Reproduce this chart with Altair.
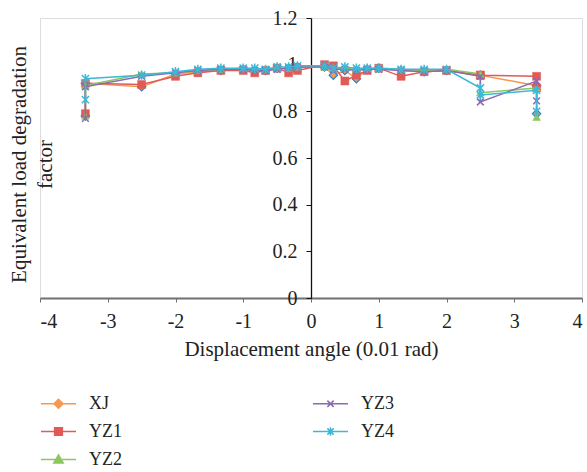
import altair as alt
import pandas as pd

# ---- data ----
series = ["XJ", "YZ1", "YZ2", "YZ3", "YZ4"]
x_vals = [-3.33, -3.33, -2.5, -2, -1.67, -1.33, -1, -0.83, -0.67, -0.5, -0.33, -0.2,
          0.2, 0.33, 0.5, 0.67, 0.83, 1, 1.33, 1.67, 2, 2.5, 2.5, 3.33, 3.33]
xj  = [0.78, 0.92, 0.905, 0.96, 0.97, 0.975, 0.98, 0.975, 0.975, 0.985, 0.985, 0.99,
       0.99, 0.955, 0.975, 0.94, 0.98, 0.985, 0.975, 0.97, 0.975, 0.955, 0.955, 0.91, 0.79]
yz1 = [0.79, 0.92, 0.915, 0.95, 0.965, 0.975, 0.975, 0.965, 0.975, 0.985, 0.965, 0.975,
       1.0, 0.995, 0.93, 0.955, 0.975, 0.985, 0.95, 0.97, 0.975, 0.955, 0.955, 0.95, 0.90]
yz2 = [0.78, 0.91, 0.96, 0.965, 0.975, 0.98, 0.985, 0.98, 0.98, 0.985, 0.985, 0.99,
       0.99, 0.985, 0.985, 0.98, 0.985, 0.985, 0.98, 0.975, 0.98, 0.96, 0.88, 0.90, 0.775]
yz3 = [0.77, 0.905, 0.95, 0.965, 0.975, 0.98, 0.98, 0.975, 0.975, 0.98, 0.985, 0.99,
       0.99, 0.98, 0.98, 0.975, 0.98, 0.98, 0.975, 0.97, 0.975, 0.95, 0.84, 0.93, 0.845]
yz4 = [0.85, 0.94, 0.955, 0.97, 0.98, 0.985, 0.985, 0.985, 0.98, 0.99, 0.99, 0.995,
       0.995, 0.985, 0.99, 0.985, 0.985, 0.985, 0.98, 0.98, 0.98, 0.90, 0.87, 0.89, 0.80]
values = [xj, yz1, yz2, yz3, yz4]

x_ticks = [-4, -3, -2, -1, 0, 1, 2, 3, 4]
y_ticks = [0, 0.2, 0.4, 0.6, 0.8, 1.0, 1.2]

# ---- styles ----
line_colors = ["#f29a55", "#e05a56", "#8cc660", "#8a6bb3", "#3db8d6"]
W, H = 542, 280
FONT = "Liberation Serif, DejaVu Serif, serif"

rows = []
for s, vals in zip(series, values):
    for i, (xv, yv) in enumerate(zip(x_vals, vals)):
        rows.append({"series": s, "x": xv, "y": yv, "order": i})
df = pd.DataFrame(rows)

X = alt.X("x:Q", scale=alt.Scale(domain=[-4, 4], nice=False, zero=False),
          axis=alt.Axis(values=x_ticks, labelExpr="'' + datum.value", grid=False,
                        domainColor="#707070", domainWidth=2, tickColor="#707070",
                        tickSize=4, labelPadding=9, labelFont=FONT, labelFontSize=20,
                        labelColor="#222", title="Displacement angle (0.01 rad)",
                        titleFont=FONT, titleFontSize=21, titleFontWeight="normal",
                        titleColor="#222", titlePadding=7))
Y = alt.Y("y:Q", scale=alt.Scale(domain=[0, 1.2], nice=False),
          axis=alt.Axis(orient="left", offset=-W / 2, values=y_ticks,
                        labelExpr="'' + datum.value", grid=False,
                        domainColor="#111", domainWidth=1.3, tickColor="#111",
                        tickSize=5, labelPadding=9, labelFont=FONT, labelFontSize=20,
                        labelColor="#222",
                        title=["Equivalent load degradation", "factor"],
                        titleFont=FONT, titleFontSize=21, titleFontWeight="normal",
                        titleColor="#222", titleAngle=-90, titleAlign="center",
                        titleBaseline="alphabetic", titleX=-W / 2 - 15,
                        titleY=146, titleLineHeight=26))

point_styles = [
    dict(shape="diamond", filled=True, fill="#f29a55", stroke="#2f7fc0", strokeWidth=1.2, size=70),
    dict(shape="square", filled=True, fill="#e05a56", stroke="#e05a56", strokeWidth=0.5, size=64),
    dict(shape="triangle-up", filled=True, fill="#8cc660", stroke="#8cc660", strokeWidth=0.5, size=60),
    dict(shape="M-1,-1L1,1M-1,1L1,-1", filled=False, stroke="#8a6bb3", strokeWidth=1.5, size=45),
    dict(shape="M-1,-1L1,1M-1,1L1,-1M0,-1.3L0,1.3", filled=False, stroke="#3db8d6", strokeWidth=1.5, size=52),
]

layers = []
for s, c, ps in zip(series, line_colors, point_styles):
    d = df[df["series"] == s]
    base = alt.Chart(d)
    layers.append(base.mark_line(color=c, strokeWidth=1.5).encode(x=X, y=Y, order="order:Q"))
    layers.append(base.mark_point(opacity=1, **ps).encode(x=X, y=Y))

# legend layer (points sit outside the domain and are clipped)
legend_order = ["XJ", "YZ1", "YZ2", "YZ3", "YZ4"]
leg_colors = {"XJ": "#f29a55", "YZ1": "#e05a56", "YZ2": "#8cc660", "YZ3": "#8a6bb3", "YZ4": "#3db8d6"}
leg_paths = {
    "XJ": "M-1,0L1,0M0,-0.26L0.26,0L0,0.26L-0.26,0Z",
    "YZ1": "M-1,0L1,0M-0.22,-0.22L0.22,-0.22L0.22,0.22L-0.22,0.22Z",
    "YZ2": "M-1,0L1,0M0,-0.26L0.27,0.2L-0.27,0.2Z",
    "YZ3": "M-1,0L1,0M-0.18,-0.18L0.18,0.18M-0.18,0.18L0.18,-0.18",
    "YZ4": "M-1,0L1,0M-0.18,-0.18L0.18,0.18M-0.18,0.18L0.18,-0.18M0,-0.24L0,0.24",
}
leg_df = pd.DataFrame({"series": series, "x": [99] * 5, "y": [0.5] * 5})
leg = alt.Legend(orient="none", legendX=0, legendY=367, columns=2, columnPadding=188,
                 rowPadding=0, symbolSize=1225, symbolStrokeWidth=1.5,
                 symbolOpacity=1, labelFont=FONT, labelFontSize=18, labelColor="#222",
                 labelOffset=12, title=None)
color_range = [leg_colors[s] for s in legend_order]
legend_layer = alt.Chart(leg_df).mark_point(clip=True, size=40).encode(
    x=X, y=Y,
    fill=alt.Fill("series:N", scale=alt.Scale(domain=legend_order, range=color_range), legend=leg),
    stroke=alt.Stroke("series:N", scale=alt.Scale(domain=legend_order, range=color_range), legend=leg),
    shape=alt.Shape("series:N", scale=alt.Scale(domain=legend_order,
                                                range=[leg_paths[s] for s in legend_order]), legend=leg),
)

chart = alt.layer(*layers, legend_layer).properties(
    width=W, height=H,
    autosize=alt.AutoSizeParams(type="none"),
    padding={"left": 40, "top": 18, "right": 5, "bottom": 174},
).configure_view(stroke=None).configure(background="white")

chart.save("out.html", embed_options={"renderer": "svg", "actions": False})
